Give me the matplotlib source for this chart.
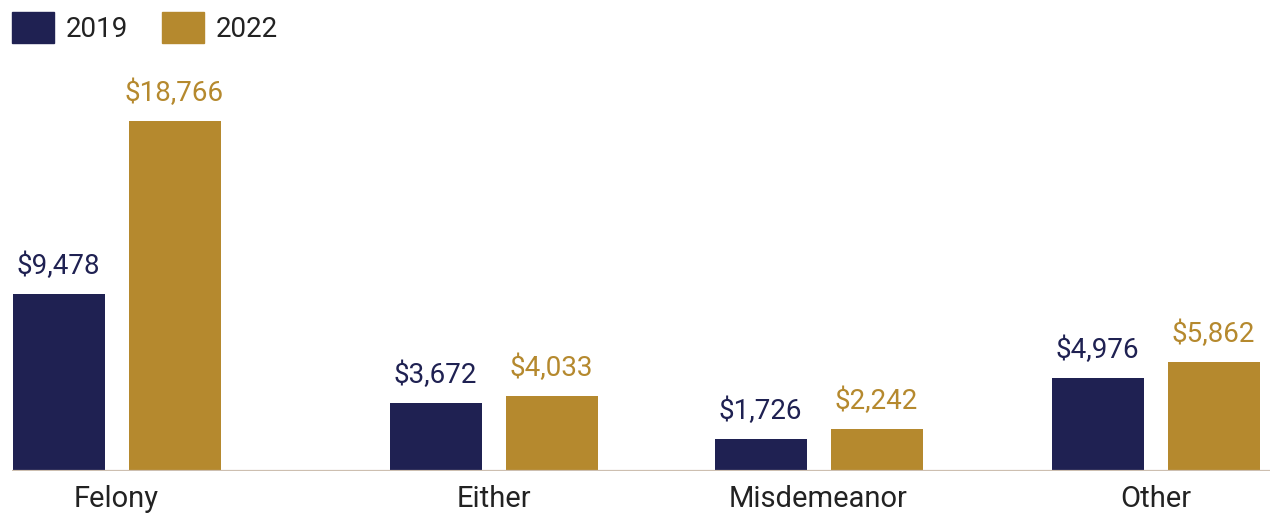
import numpy as np
import matplotlib
matplotlib.use("Agg")
import matplotlib.pyplot as plt
from matplotlib.patches import Patch

plt.rcParams['font.family'] = ['Roboto', 'DejaVu Sans']

categories = ["Felony", "Either", "Misdemeanor", "Other"]
years = ["2019", "2022"]
cost_2019 = [9478, 3672, 1726, 4976]
cost_2022 = [18766, 4033, 2242, 5862]

navy = "#1f2152"
gold = "#b5892e"
base_col = "#cdbfb0"
text_col = "#222222"

W, H = 1270, 514
fig = plt.figure(figsize=(W / 100, H / 100), dpi=100)

# axes placed in pixel terms so groups can sit where they belong
left, bottom, top = 12, 43, 60
ax = fig.add_axes([left / W, bottom / H, (W - left) / W, (H - bottom - top) / H])
ax.set_xlim(0, W - left)
ax.set_ylim(0, max(cost_2022) * (H - bottom - top) / 350)

centers = np.array([104.5, 481.5, 806.5, 1143.5])
bw = 92
off = 58

b1 = ax.bar(centers - off, cost_2019, width=bw, color=navy, zorder=2)
b2 = ax.bar(centers + off, cost_2022, width=bw, color=gold, zorder=2)

for bars, vals, c in [(b1, cost_2019, navy), (b2, cost_2022, gold)]:
    for rect, v in zip(bars, vals):
        ax.annotate(f"${v:,}", (rect.get_x() + rect.get_width() / 2, v),
                    xytext=(0, 10), textcoords="offset points",
                    ha="center", va="bottom", fontsize=20, color=c)

ax.axhline(0, color=base_col, lw=1.6, zorder=3)

ax.set_xticks(centers)
ax.set_xticklabels(categories, fontsize=21, color=text_col)
ax.tick_params(axis="x", length=0, pad=10)
ax.set_yticks([])
for s in ax.spines.values():
    s.set_visible(False)

handles = [Patch(color=navy), Patch(color=gold)]
fig.legend(handles, years, loc="upper left", bbox_to_anchor=(4 / W, 1 - 4 / H),
           ncol=2, frameon=False, fontsize=20, handlelength=1.5,
           handleheight=1.3, handletextpad=0.43, columnspacing=1.22,
           borderaxespad=0.0, borderpad=0.3, labelcolor=text_col)

fig.savefig("out.png", dpi=100, facecolor="white")
